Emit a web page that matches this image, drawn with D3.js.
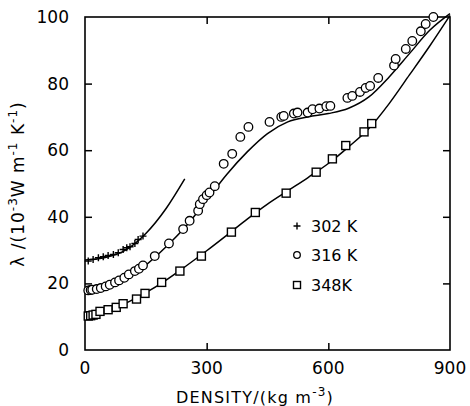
<!DOCTYPE html>
<html>
<head>
<meta charset="utf-8">
<script src="https://cdn.jsdelivr.net/npm/d3@7"></script>
<style>
  body { margin: 0; background: #fff; }
  svg { font-family: "DejaVu Sans", sans-serif; }
</style>
</head>
<body>
<svg width="470" height="406"></svg>
<script>
// measured points, 302 K (crosses)
var rho302 = [8, 20, 33, 45, 57, 70, 82, 94, 103, 111, 123, 131, 143];
var lam302 = [26.7, 27.2, 27.7, 28, 28.4, 28.7, 29.2, 30.2, 30.7, 31, 32, 33.2, 34.2];

// 316 K (circles)
var rho316 = [8, 14, 18, 29, 39, 51, 61, 74, 84, 97, 108, 123, 133, 143, 172, 207, 242, 258, 279, 283, 291, 300, 307, 320, 342, 363, 383, 403, 455, 484, 490, 515, 524, 549, 561, 578, 595, 605, 647, 659, 678, 692, 703, 723, 762, 766, 791, 807, 828, 840, 859];
var lam316 = [17.9, 18, 18.1, 18.3, 18.6, 19.1, 19.6, 20.3, 20.9, 21.7, 22.7, 23.7, 24.4, 25.4, 28.2, 32, 36.3, 38.8, 41.8, 43.8, 45.3, 46.5, 47.3, 49.2, 55.9, 58.9, 64, 67, 68.5, 70, 70.3, 71, 71.3, 71.3, 72.3, 72.5, 73.2, 73.3, 75.7, 76.3, 77.5, 78.7, 79.3, 81.7, 85.4, 87.4, 90.4, 92.8, 95.7, 97.9, 100];

// 348 K (squares)
var rho348 = [8, 14, 20, 27, 37, 57, 77, 94, 127, 148, 189, 234, 287, 361, 420, 496, 570, 610, 643, 688, 707];
var lam348 = [10.2, 10.3, 10.5, 10.7, 11.6, 12.1, 12.8, 13.9, 15.3, 17, 20.3, 23.7, 28.2, 35.4, 41.3, 47.1, 53.4, 57.4, 61.4, 65.5, 68];

// calculated curves
var fitRho302 = [0, 50, 100, 150, 200, 246];
var fitLam302 = [27, 27.8, 30, 35, 42.5, 51.4];
var fitRho316 = [0, 50, 100, 150, 200, 250, 300, 350, 400, 450, 500, 550, 600, 650, 700, 750, 800, 850, 900];
var fitLam316 = [17.5, 18.5, 21.3, 25.5, 31, 37.3, 45, 52.8, 59.5, 65, 68.5, 70, 71, 72.6, 76, 82, 89, 96, 101];
var fitRho348 = [0, 50, 100, 150, 200, 250, 300, 350, 400, 450, 500, 550, 600, 650, 700, 750, 800, 850, 900];
var fitLam348 = [10, 11.5, 14, 17.2, 21, 25.3, 29.8, 34.5, 39.3, 43.8, 47.8, 51.8, 56, 61, 66.5, 74, 82.6, 91.3, 100.5];

var xTicks = [0, 300, 600, 900];
var yTicks = [0, 20, 40, 60, 80, 100];
var legendItems = ["302 K", "316 K", "348K"];

var svg = d3.select("svg");
var x = d3.scaleLinear().domain([0, 900]).range([85, 450]);
var y = d3.scaleLinear().domain([0, 100]).range([350, 17]);

function pairs(a, b) { return a.map(function (v, i) { return [v, b[i]]; }); }

// frame
svg.append("rect")
    .attr("x", x(0)).attr("y", y(100))
    .attr("width", x(900) - x(0)).attr("height", y(0) - y(100))
    .attr("fill", "none").attr("stroke", "#000").attr("stroke-width", 1.6);

// inward ticks on all four sides
var tl = 7;
svg.append("g").attr("transform", "translate(" + x(0) + ",0)")
    .call(d3.axisRight(y).tickValues([20, 40, 60, 80]).tickSize(tl).tickFormat(""))
    .call(function (g) { g.select(".domain").remove(); });
svg.append("g").attr("transform", "translate(" + x(900) + ",0)")
    .call(d3.axisLeft(y).tickValues([20, 40, 60, 80]).tickSize(tl).tickFormat(""))
    .call(function (g) { g.select(".domain").remove(); });
svg.append("g").attr("transform", "translate(0," + y(0) + ")")
    .call(d3.axisTop(x).tickValues([300, 600]).tickSize(tl).tickFormat(""))
    .call(function (g) { g.select(".domain").remove(); });
svg.append("g").attr("transform", "translate(0," + y(100) + ")")
    .call(d3.axisBottom(x).tickValues([300, 600]).tickSize(tl).tickFormat(""))
    .call(function (g) { g.select(".domain").remove(); });
svg.selectAll(".tick line").attr("stroke", "#000").attr("stroke-width", 1.5);

// tick labels
svg.append("g").selectAll("text").data(yTicks).enter().append("text")
    .attr("x", 69).attr("y", function (d) { return y(d) + 6; })
    .attr("text-anchor", "end").attr("font-size", 17)
    .text(function (d) { return d; });
svg.append("g").selectAll("text").data(xTicks).enter().append("text")
    .attr("x", function (d) { return x(d); }).attr("y", 374)
    .attr("text-anchor", "middle").attr("font-size", 17)
    .text(function (d) { return d; });

// axis titles
var xt = svg.append("text").attr("x", 255).attr("y", 403)
    .attr("text-anchor", "middle").attr("font-size", 16).attr("letter-spacing", 1.2);
xt.append("tspan").text("DENSITY/(kg m");
xt.append("tspan").attr("dy", -7).attr("font-size", 12).text("-3");
xt.append("tspan").attr("dy", 7).text(")");

var yt = svg.append("text").attr("transform", "translate(24,184) rotate(-90)")
    .attr("text-anchor", "middle").attr("font-size", 17).attr("letter-spacing", 1);
yt.append("tspan").text("λ /(10");
yt.append("tspan").attr("dy", -7).attr("font-size", 12).text("-3");
yt.append("tspan").attr("dy", 7).text("W m");
yt.append("tspan").attr("dy", -7).attr("font-size", 12).text("-1");
yt.append("tspan").attr("dy", 7).text(" K");
yt.append("tspan").attr("dy", -7).attr("font-size", 12).text("-1");
yt.append("tspan").attr("dy", 7).text(")");

// curves
var line = d3.line().x(function (d) { return x(d[0]); }).y(function (d) { return y(d[1]); })
    .curve(d3.curveMonotoneX);
[pairs(fitRho302, fitLam302), pairs(fitRho316, fitLam316), pairs(fitRho348, fitLam348)]
    .forEach(function (p) {
        svg.append("path").datum(p).attr("d", line)
            .attr("fill", "none").attr("stroke", "#000").attr("stroke-width", 1.5);
    });

// markers
function drawCross(g, cx, cy, s) {
    g.append("path")
        .attr("d", "M" + (cx - s) + "," + cy + "H" + (cx + s) + "M" + cx + "," + (cy - s) + "V" + (cy + s))
        .attr("stroke", "#000").attr("stroke-width", 1.4).attr("fill", "none");
}
var gc = svg.append("g");
pairs(rho302, lam302).forEach(function (d) { drawCross(gc, x(d[0]), y(d[1]), 3.5); });

svg.append("g").selectAll("circle").data(pairs(rho316, lam316)).enter().append("circle")
    .attr("cx", function (d) { return x(d[0]); })
    .attr("cy", function (d) { return y(d[1]); })
    .attr("r", 4.3).attr("fill", "#fff").attr("stroke", "#000").attr("stroke-width", 1.3);

svg.append("g").selectAll("rect").data(pairs(rho348, lam348)).enter().append("rect")
    .attr("x", function (d) { return x(d[0]) - 4; })
    .attr("y", function (d) { return y(d[1]) - 4; })
    .attr("width", 8).attr("height", 8)
    .attr("fill", "#fff").attr("stroke", "#000").attr("stroke-width", 1.4);

// legend
var ly = [226, 255, 285];
var lg = svg.append("g");
drawCross(lg, 297, ly[0], 3.5);
lg.append("circle").attr("cx", 297).attr("cy", ly[1]).attr("r", 3.3)
    .attr("fill", "#fff").attr("stroke", "#000").attr("stroke-width", 1.3);
lg.append("rect").attr("x", 293.5).attr("y", ly[2] - 3.5).attr("width", 7).attr("height", 7)
    .attr("fill", "#fff").attr("stroke", "#000").attr("stroke-width", 1.4);
lg.selectAll("text").data(legendItems).enter().append("text")
    .attr("x", 311).attr("y", function (d, i) { return ly[i] + 6; })
    .attr("font-size", 16).text(function (d) { return d; });
</script>
</body>
</html>
